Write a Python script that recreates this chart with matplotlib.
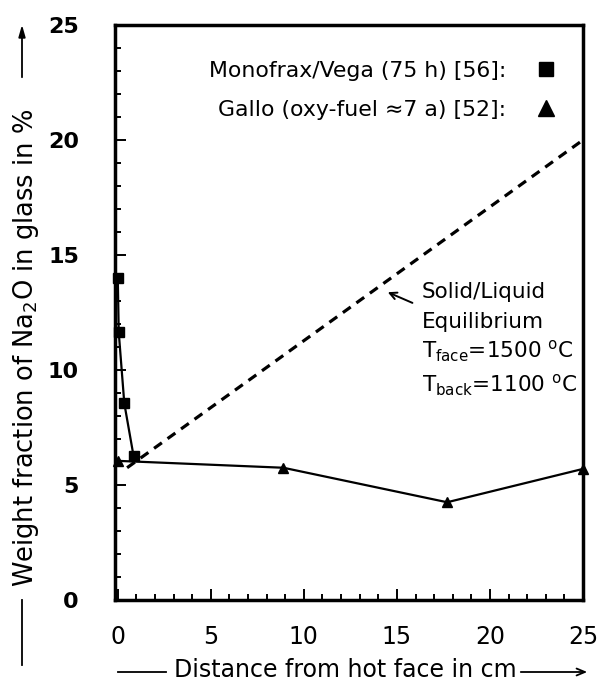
import matplotlib.pyplot as plt
from matplotlib.lines import Line2D
from matplotlib.ticker import MultipleLocator

# Monofrax/Vega after 75 h [56]
mono_x = [0.0, 0.05, 0.35, 0.85]
mono_y = [14.0, 11.65, 8.55, 6.25]

# Gallo, oxy-fuel after about 7 years [52]
gallo_x = [0.0, 8.9, 17.7, 25.0]
gallo_y = [6.05, 5.75, 4.25, 5.7]

# solid/liquid equilibrium (T_face = 1500 C, T_back = 1100 C)
eq_x = [0.5, 25.0]
eq_y = [5.75, 20.0]

x_ticks = [0, 5, 10, 15, 20, 25]
y_ticks = [0, 5, 10, 15, 20, 25]

W, H = 603, 686
fig = plt.figure(figsize=(W / 100, H / 100), dpi=100)
ax = fig.add_axes([115 / W, 1 - 600 / H, 468 / W, 575 / H])

ax.plot(eq_x, eq_y, color='k', lw=2.3, dashes=(3, 2.2))
ax.plot(mono_x, mono_y, color='k', lw=1.6, marker='s', ms=7.5, clip_on=False)
ax.plot(gallo_x, gallo_y, color='k', lw=1.6, marker='^', ms=6.5, clip_on=False)

ax.set_xlim(-0.15, 25)
ax.set_ylim(0, 25)
ax.set_xticks(x_ticks)
ax.set_yticks(y_ticks)
ax.xaxis.set_minor_locator(MultipleLocator(1))
ax.yaxis.set_minor_locator(MultipleLocator(1))

for s in ax.spines.values():
    s.set_linewidth(2.5)

ax.tick_params(which='both', direction='in', top=False, right=False, width=1.4)
ax.tick_params(which='major', length=8)
ax.tick_params(which='minor', length=4)
ax.tick_params(axis='x', which='major', labelsize=17, pad=18)
ax.tick_params(axis='y', which='major', labelsize=16, pad=26)
for lab in ax.get_yticklabels():
    lab.set_fontweight('bold')

# legend: text first, marker on the right
handles = [Line2D([], [], ls='none', marker='s', color='k', ms=10),
           Line2D([], [], ls='none', marker='^', color='k', ms=11)]
labels = ['Monofrax/Vega (75 h) [56]:', 'Gallo (oxy-fuel \u22487 a) [52]:']
ax.legend(handles, labels, loc='upper right', markerfirst=False, frameon=False,
          fontsize=15.8, handlelength=1.0, handletextpad=1.3, labelspacing=0.85,
          borderpad=0, borderaxespad=0,
          bbox_to_anchor=(557 / W, 1 - 61 / H), bbox_transform=fig.transFigure)

# equilibrium line annotation
tx = 16.35
fs = 15.5
ax.text(tx, 13.39, 'Solid/Liquid', fontsize=fs, va='center')
ax.text(tx, 12.09, 'Equilibrium', fontsize=fs, va='center')
ax.text(tx, 10.8, r'T$_{\mathregular{face}}$=1500 $^{\mathregular{o}}$C', fontsize=fs, va='center')
ax.text(tx, 9.35, r'T$_{\mathregular{back}}$=1100 $^{\mathregular{o}}$C', fontsize=fs, va='center')
ax.annotate('', xy=(14.37, 13.43), xytext=(15.97, 12.87),
            arrowprops=dict(arrowstyle='->,head_length=0.5,head_width=0.25', lw=1.4, color='k'))

# axis titles with their leading dash and trailing arrow
fig.text(26 / W, 1 - 348 / H, r'Weight fraction of Na$_2$O in glass in %',
         rotation=90, ha='center', va='center', fontsize=18.5)
fig.add_artist(Line2D([22 / W, 22 / W], [1 - 665 / H, 1 - 600 / H],
                      transform=fig.transFigure, color='k', lw=1.3))
ax.annotate('', xy=(22 / W, 1 - 22 / H), xytext=(22 / W, 1 - 80 / H),
            xycoords='figure fraction', textcoords='figure fraction',
            arrowprops=dict(arrowstyle='-|>,head_length=0.7,head_width=0.2', lw=1.3, color='k'))

fig.text(345 / W, 1 - 670 / H, 'Distance from hot face in cm',
         ha='center', va='center', fontsize=17)
fig.add_artist(Line2D([118 / W, 166 / W], [1 - 672 / H, 1 - 672 / H],
                      transform=fig.transFigure, color='k', lw=1.3))
ax.annotate('', xy=(590 / W, 1 - 672 / H), xytext=(518 / W, 1 - 672 / H),
            xycoords='figure fraction', textcoords='figure fraction',
            arrowprops=dict(arrowstyle='->,head_length=0.6,head_width=0.25', lw=1.3, color='k'))

fig.savefig('out.png', dpi=100)
